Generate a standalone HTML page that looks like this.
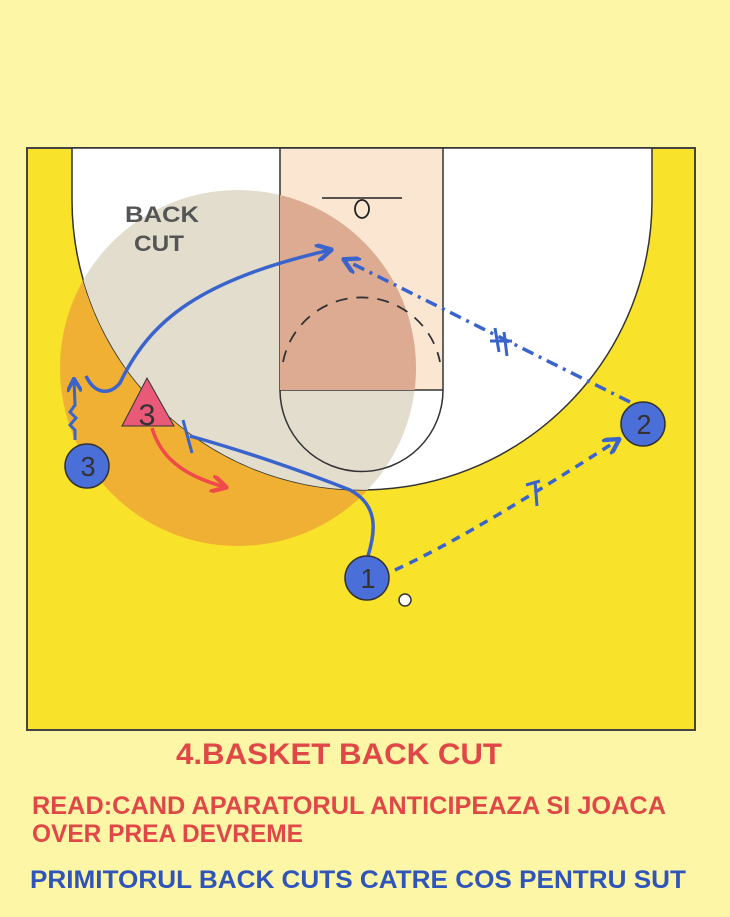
<!DOCTYPE html>
<html><head><style>html,body{margin:0;padding:0;background:#fdf6a6;}</style></head>
<body>
<svg width="730" height="912" viewBox="0 0 730 912" xmlns="http://www.w3.org/2000/svg">
<defs>
  <clipPath id="w"><path d="M72 148 L652 148 L652 200 A290 290 0 0 1 72 200 Z"/></clipPath>
  <clipPath id="l"><rect x="280" y="148" width="163" height="242"/></clipPath>
  <marker id="ab" viewBox="0 0 10 10" refX="8" refY="5" markerWidth="5" markerHeight="5" orient="auto"><path d="M0 0 L9 5 L0 10" fill="none" stroke="#3a64cc" stroke-width="2.5"/></marker>
  <marker id="ar" viewBox="0 0 10 10" refX="8" refY="5" markerWidth="5" markerHeight="5" orient="auto"><path d="M0 0 L9 5 L0 10" fill="none" stroke="#f04a4a" stroke-width="2.5"/></marker>
</defs>
<rect width="730" height="912" fill="#fdf6a6"/>
<rect x="27" y="148" width="668" height="582" fill="#f9e22a" stroke="#444" stroke-width="2"/>
<circle cx="238" cy="368" r="178" fill="#efb034"/>
<path d="M72 148 L652 148 L652 200 A290 290 0 0 1 72 200 Z" fill="#fff" stroke="#333" stroke-width="1.5"/>
<circle cx="238" cy="368" r="178" fill="#e2ddcd" clip-path="url(#w)"/>
<rect x="280" y="148" width="163" height="242" fill="#fbe6d2" stroke="#333" stroke-width="1.5"/>
<circle cx="238" cy="368" r="178" fill="#dcab92" clip-path="url(#l)"/>
<path d="M280 390 A81 81 0 0 0 443 390" fill="none" stroke="#333" stroke-width="1.5"/>
<path d="M283 362 A80 80 0 0 1 440 362" fill="none" stroke="#333" stroke-width="1.8" stroke-dasharray="12 9"/>
<line x1="322" y1="198" x2="402" y2="198" stroke="#222" stroke-width="1.5"/>
<ellipse cx="362" cy="209" rx="7" ry="9" fill="none" stroke="#222" stroke-width="1.8"/>
<text x="125" y="222" font-family="Liberation Sans, sans-serif" font-weight="bold" font-size="22" fill="#555" textLength="74" lengthAdjust="spacingAndGlyphs">BACK</text>
<text x="134" y="251" font-family="Liberation Sans, sans-serif" font-weight="bold" font-size="22" fill="#555" textLength="50" lengthAdjust="spacingAndGlyphs">CUT</text>
<path d="M368 556 C376 530 378 505 350 490 C300 470 240 450 190 436" fill="none" stroke="#3a64cc" stroke-width="3.5"/>
<line x1="183" y1="420" x2="192" y2="453" stroke="#3a64cc" stroke-width="3"/>
<path d="M86 376 C95 395 110 395 120 383 C150 320 200 280 330 250" fill="none" stroke="#3a64cc" stroke-width="3.5" marker-end="url(#ab)"/>
<path d="M75 440 L75 430 L70 425 L76 418 L70 412 L75 405 L74 380" fill="none" stroke="#3a64cc" stroke-width="3" marker-end="url(#ab)"/>
<path d="M395 570 C460 540 540 490 618 440" fill="none" stroke="#3a64cc" stroke-width="3.5" stroke-dasharray="9 7" marker-end="url(#ab)"/>
<path d="M526 485 L540 481 M535 481 L537 506" stroke="#3a64cc" stroke-width="3"/>
<path d="M630 402 L345 260" fill="none" stroke="#3a64cc" stroke-width="3.5" stroke-dasharray="12 6 3 6" marker-end="url(#ab)"/>
<path d="M495 328 L499 352 M504 332 L507 356 M490 341 L512 341" stroke="#3a64cc" stroke-width="3"/>
<path d="M152 428 C160 455 180 475 225 487" fill="none" stroke="#f04a4a" stroke-width="3.5" marker-end="url(#ar)"/>
<polygon points="147,378 122,426 174,426" fill="#e85a78" stroke="#333" stroke-width="1"/>
<text x="147" y="425" text-anchor="middle" font-family="Liberation Sans, sans-serif" font-size="30" fill="#333" textLength="17" lengthAdjust="spacingAndGlyphs">3</text>
<g stroke="#333" stroke-width="1.5">
<circle cx="367" cy="578" r="22" fill="#4a6fd8"/>
<circle cx="643" cy="424" r="22" fill="#4a6fd8"/>
<circle cx="87" cy="466" r="22" fill="#4a6fd8"/>
</g>
<g font-family="Liberation Sans, sans-serif" font-size="28" fill="#333" text-anchor="middle">
<text x="368" y="588" textLength="15" lengthAdjust="spacingAndGlyphs">1</text><text x="644" y="434" textLength="15" lengthAdjust="spacingAndGlyphs">2</text><text x="88" y="476" textLength="15" lengthAdjust="spacingAndGlyphs">3</text>
</g>
<circle cx="405" cy="600" r="6" fill="#fff" stroke="#333" stroke-width="1.5"/>
<g font-family="Liberation Sans, sans-serif" font-weight="bold">
<text x="176" y="764" font-size="30" fill="#e04848" textLength="326" lengthAdjust="spacingAndGlyphs">4.BASKET BACK CUT</text>
<text x="32" y="814" font-size="25" fill="#e04848" textLength="634" lengthAdjust="spacingAndGlyphs">READ:CAND APARATORUL ANTICIPEAZA SI JOACA</text>
<text x="32" y="842" font-size="25" fill="#e04848" textLength="271" lengthAdjust="spacingAndGlyphs">OVER PREA  DEVREME</text>
<text x="30" y="888" font-size="25" fill="#2f55bb" textLength="656" lengthAdjust="spacingAndGlyphs">PRIMITORUL BACK CUTS CATRE COS PENTRU SUT</text>
</g>
</svg>
</body></html>
